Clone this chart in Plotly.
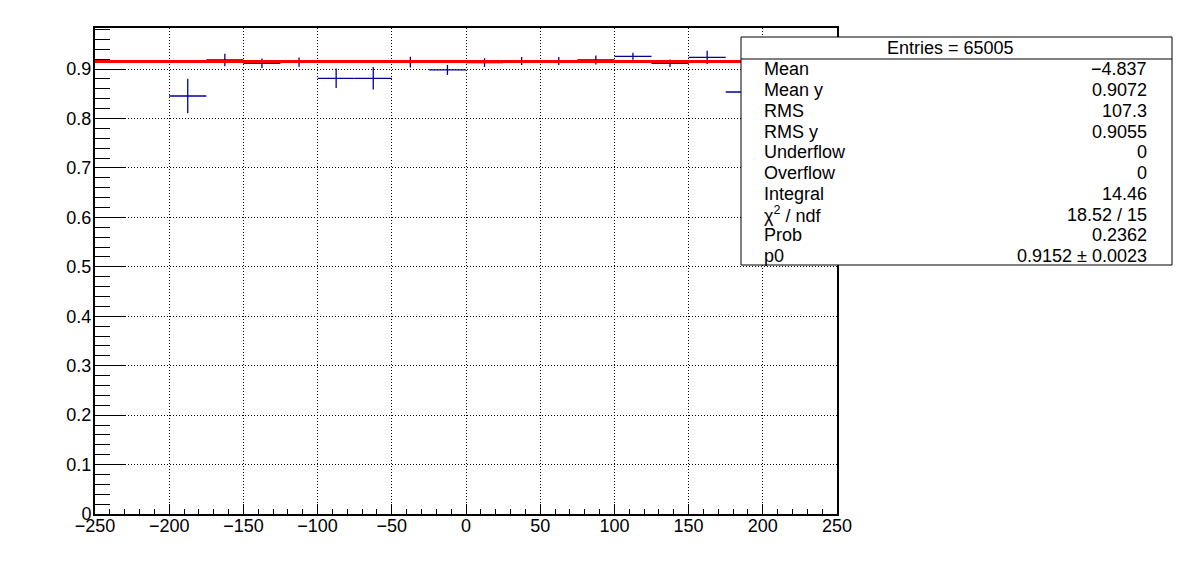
import plotly.graph_objects as go

# ---- data ----
bin_centers = [-187.5, -162.5, -137.5, -112.5, -87.5, -62.5, -37.5, -12.5,
               12.5, 37.5, 62.5, 87.5, 112.5, 137.5, 162.5, 187.5]
bin_half_width = 12.5
values = [0.8455, 0.9183, 0.9116, 0.9140, 0.8813, 0.8813, 0.9140, 0.8981,
          0.9130, 0.9163, 0.9163, 0.9183, 0.9258, 0.9116, 0.9237, 0.8536]
errors = [0.0348, 0.0128, 0.0098, 0.0095, 0.0196, 0.0227, 0.0108, 0.0101,
          0.0088, 0.0081, 0.0081, 0.0091, 0.0071, 0.0077, 0.0135, 0.030]

fit_p0 = 0.9152
fit_range = [-250, 250]

x_range = [-250, 250]
y_range = [0, 0.983]

stats_header = "Entries = 65005"
stats_labels = ["Mean", "Mean y", "RMS", "RMS y", "Underflow", "Overflow",
                "Integral", "χ<sup>2</sup> / ndf", "Prob", "p0"]
stats_values = ["−4.837", "0.9072", "107.3", "0.9055", "0", "0",
                "14.46", "18.52 / 15", "0.2362", "0.9152 ± 0.0023"]

# ---- layout geometry (pixels) ----
W, H = 1196, 572
L, R, T, B = 95, 837, 28, 514


def px_x(px):
    return (px - L) / (R - L)


def px_y(py):
    return (B - py) / (B - T)


FONT = "Liberation Sans, Arial, Helvetica, sans-serif"
BLUE = "rgb(0,0,153)"

fig = go.Figure()

fig.add_trace(go.Scatter(
    x=bin_centers, y=values, mode="markers",
    marker=dict(size=1, color=BLUE),
    error_x=dict(type="constant", value=bin_half_width, width=0,
                 color=BLUE, thickness=1.3),
    error_y=dict(type="data", array=errors, width=0,
                 color=BLUE, thickness=1.3),
    showlegend=False, hoverinfo="skip",
))

fig.add_trace(go.Scatter(
    x=fit_range, y=[fit_p0, fit_p0], mode="lines",
    line=dict(color="red", width=3), showlegend=False, hoverinfo="skip",
))

axis_common = dict(
    showline=True, linecolor="black", linewidth=2, mirror=True,
    ticks="inside", tickcolor="black", tickwidth=1,
    showgrid=True, gridcolor="black", gridwidth=1, griddash="1px,2px",
    zeroline=False,
    tickfont=dict(family=FONT, size=18, color="black"),
)

fig.update_xaxes(
    range=x_range, tickmode="linear", tick0=-250, dtick=50, ticklen=10,
    ticklabelstandoff=-6,
    minor=dict(dtick=10, ticklen=5, ticks="inside", tickcolor="black",
               showgrid=False),
    **axis_common,
)
fig.update_yaxes(
    range=y_range, tickmode="linear", tick0=0, dtick=0.1, ticklen=31,
    ticklabelstandoff=-2,
    minor=dict(dtick=0.02, ticklen=15, ticks="inside", tickcolor="black",
               showgrid=False),
    **axis_common,
)

# stats box
box_l, box_r, box_t, box_b = 741, 1172, 37, 265
header_y = 59
fig.add_shape(type="rect", xref="paper", yref="paper",
              x0=px_x(box_l), x1=px_x(box_r), y0=px_y(box_b), y1=px_y(box_t),
              line=dict(color="black", width=1), fillcolor="white",
              layer="above")
fig.add_shape(type="line", xref="paper", yref="paper",
              x0=px_x(box_l), x1=px_x(box_r), y0=px_y(header_y), y1=px_y(header_y),
              line=dict(color="black", width=1), layer="above")

SFONT = dict(family=FONT, size=18, color="black")
annotations = [dict(xref="paper", yref="paper", x=px_x(951), y=px_y(48),
                    text=stats_header, showarrow=False, xanchor="center",
                    yanchor="middle", font=SFONT)]
row0, row_step = 69.3, 20.75
for i, (lab, val) in enumerate(zip(stats_labels, stats_values)):
    yy = px_y(row0 + i * row_step)
    annotations.append(dict(xref="paper", yref="paper", x=px_x(762), y=yy,
                            text=lab, showarrow=False, xanchor="left",
                            yanchor="middle", font=SFONT))
    annotations.append(dict(xref="paper", yref="paper", x=px_x(1149), y=yy,
                            text=val, showarrow=False, xanchor="right",
                            yanchor="middle", font=SFONT))

fig.update_layout(
    width=W, height=H, autosize=False,
    margin=dict(l=L, r=W - R, t=T, b=H - B, pad=0),
    paper_bgcolor="white", plot_bgcolor="white",
    annotations=annotations,
    font=dict(family=FONT, color="black"),
)

fig.write_html("out.html",
               config={"displayModeBar": False},
               post_script="document.body.style.margin='0';"
                           "document.body.style.padding='0';")
